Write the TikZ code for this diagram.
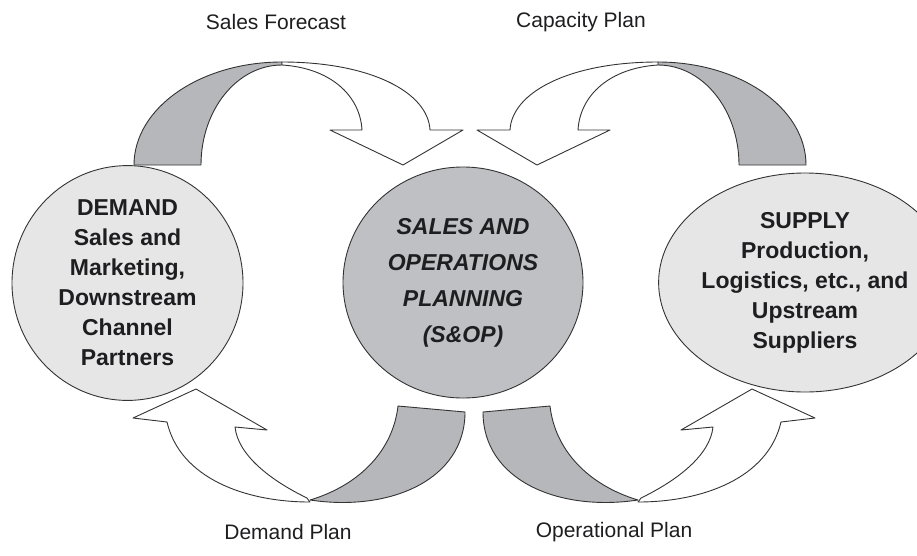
\documentclass[tikz,border=0pt]{standalone}
\usepackage{fontspec}
\setmainfont{Liberation Sans}
\usepackage{tikz}
\usetikzlibrary{shapes.geometric}

\definecolor{bandgray}{RGB}{182,183,187}
\definecolor{hubgray}{RGB}{191,192,196}
\definecolor{sidegray}{RGB}{230,230,231}
\definecolor{inkdark}{RGB}{30,30,32}

\begin{document}
\begin{tikzpicture}[x=1pt, y=-1pt, line join=round, text=inkdark,
  band/.style={draw=black!80, line width=0.9pt, fill=bandgray},
  face/.style={draw=black!80, line width=0.9pt, fill=white},
  party/.style={ellipse, draw=black!80, line width=0.9pt, fill=sidegray, inner sep=0pt,
    align=center, font=\fontsize{23}{30}\selectfont\bfseries},
  hub/.style={party, fill=hubgray, font=\fontsize{23}{36}\selectfont\bfseries\itshape},
  plan/.style={font=\fontsize{21}{25}\selectfont}]
  \useasboundingbox (0,0) rectangle (917,555);

  % the three parties
  \node[party, minimum width=231pt, minimum height=216pt] (demand) at (127.5,283)
    {DEMAND\\Sales and\\Marketing,\\Downstream\\Channel\\Partners};
  \node[hub, minimum width=240pt, minimum height=231pt] (sop) at (463,282.5)
    {SALES AND\\OPERATIONS\\PLANNING\\(S\&OP)};
  \node[party, minimum width=226pt, minimum height=219pt] (supply) at (805,282.5)
    {SUPPLY\\Production,\\Logistics, etc., and\\Upstream\\Suppliers};

  % upper ribbons, right one is the mirror image
  \foreach \s/\m in {0/1, 940/-1} {
    \begin{scope}[xshift=\s pt, xscale=\m]
      \filldraw[band] (134,165) .. controls (134,108) and (200,62) .. (282,62)
        -- (282,65) .. controls (237,65) and (201,110) .. (201,165) -- cycle;
      \filldraw[face] (282,62) .. controls (370,62) and (428,92) .. (430,130)
        -- (463,130) -- (403,165) -- (330,130) -- (362,130)
        .. controls (360,95) and (330,68) .. (282,65) -- cycle;
    \end{scope}
  }

  % lower ribbons
  \foreach \s/\m in {0/1, 948/-1} {
    \begin{scope}[xshift=\s pt, xscale=\m]
      \filldraw[face] (310,502) .. controls (245,502) and (180,478) .. (167,422)
        -- (133,418) -- (196,389) -- (267,430) -- (235,427)
        .. controls (238,455) and (270,480) .. (307,498) -- cycle;
      \filldraw[band] (398,406) -- (465,412) .. controls (465,480) and (390,512) .. (310,500)
        .. controls (360,485) and (393,450) .. (398,406) -- cycle;
    \end{scope}
  }

  % plan labels
  \node[plan] (forecast) at (276,22) {Sales Forecast};
  \node[plan] (capacity) at (581,22) {Capacity Plan};
  \node[plan] (demandplan) at (288,532) {Demand Plan};
  \node[plan] (opplan) at (614,532) {Operational Plan};
\end{tikzpicture}
\end{document}
